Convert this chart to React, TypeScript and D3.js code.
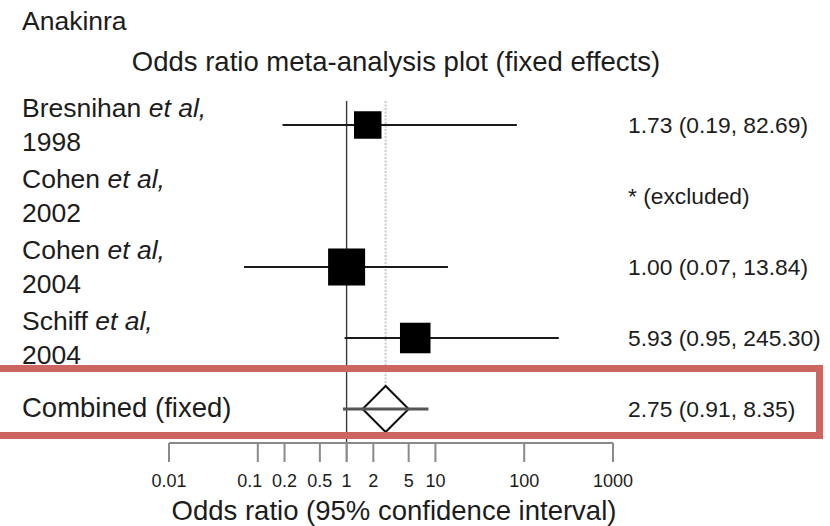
import React from "react";
import * as d3 from "d3";

const studyNames = ["Bresnihan", "Cohen", "Cohen", "Schiff"];
const studyYears = ["1998", "2002", "2004", "2004"];
const oddsRatio: (number | null)[] = [1.73, null, 1.0, 5.93];
const ciLower: (number | null)[] = [0.19, null, 0.07, 0.95];
const ciUpper: (number | null)[] = [82.69, null, 13.84, 245.3];
const weights: (number | null)[] = [24.7, null, 44.8, 30.5];

const combinedLabel = "Combined (fixed)";
const combinedOR = 2.75;
const combinedLower = 0.91;
const combinedUpper = 8.35;

const tickValues = [0.01, 0.1, 0.2, 0.5, 1, 2, 5, 10, 100, 1000];
const tickLabels = ["0.01", "0.1", "0.2", "0.5", "1", "2", "5", "10", "100", "1000"];

const W = 830;
const H = 526;
const FONT = "'Liberation Sans', Arial, Helvetica, sans-serif";
const TEXT = "#1c1c1c";

export default function App() {
  const x = d3.scaleLog().domain([0.01, 1000]).range([169, 613]);
  const rows = d3.scalePoint<number>().domain([0, 1, 2, 3, 4]).range([125, 409]);
  const size = d3.scaleSqrt().domain([0, 100]).range([0, 55.3]);

  const axisY = 443;
  const tickLen = 19;
  const cy = rows(4)!;
  const dH = 23;
  const dW = 23;
  const cx = x(combinedOR);
  const diamond = d3.line()([
    [cx - dW, cy],
    [cx, cy - dH],
    [cx + dW, cy],
    [cx, cy + dH],
    [cx - dW, cy],
  ]);

  const fmt = (v: number) => v.toFixed(2);
  // nudge crowded tick labels apart (0.1 sits next to 0.2)
  const labelNudge = (t: number) => (t === 0.1 ? -8 : 0);

  return (
    <svg
      width={W}
      height={H}
      style={{ position: "absolute", left: 0, top: 0, background: "#fff" }}
      fontFamily={FONT}
    >
      <rect x={0} y={0} width={W} height={H} fill="#fff" />
      <text x={22} y={30} fontSize={26.5} fill={TEXT}>Anakinra</text>
      <text x={396} y={71} fontSize={27.5} fill={TEXT} textAnchor="middle">
        Odds ratio meta-analysis plot (fixed effects)
      </text>

      {/* reference line at OR = 1 */}
      <line x1={x(1)} x2={x(1)} y1={101} y2={axisY + tickLen} stroke="#3a3a3a" strokeWidth={1.4} />
      {/* dotted line at combined estimate */}
      <line
        x1={cx}
        x2={cx}
        y1={101}
        y2={cy - dH}
        stroke="#cacaca"
        strokeWidth={2}
        strokeDasharray="2,1.5"
      />

      {studyNames.map((name, i) => {
        const y = rows(i)!;
        const or = oddsRatio[i];
        const lo = ciLower[i];
        const hi = ciUpper[i];
        const w = weights[i];
        const s = w != null ? size(w) : 0;
        return (
          <g key={i}>
            <text x={22} y={y - 8} fontSize={26.5} fill={TEXT}>
              {name} <tspan fontStyle="italic">et al,</tspan>
            </text>
            <text x={22} y={y + 26} fontSize={26.5} fill={TEXT}>{studyYears[i]}</text>
            {or != null && lo != null && hi != null ? (
              <>
                <line x1={x(lo)} x2={x(hi)} y1={y} y2={y} stroke="#1a1a1a" strokeWidth={2} />
                <rect x={x(or) - s / 2} y={y - s / 2} width={s} height={s} fill="#000" />
                <text x={628} y={y + 8} fontSize={22.8} fill={TEXT}>
                  {`${fmt(or)} (${fmt(lo)}, ${fmt(hi)})`}
                </text>
              </>
            ) : (
              <text x={628} y={y + 8} fontSize={22.8} fill={TEXT}>* (excluded)</text>
            )}
          </g>
        );
      })}

      {/* combined */}
      <text x={22} y={cy + 8} fontSize={27.5} fill={TEXT}>{combinedLabel}</text>
      <path d={diamond!} fill="#fff" stroke="#111" strokeWidth={2} />
      <line x1={x(combinedLower)} x2={x(combinedUpper)} y1={cy} y2={cy} stroke="#555" strokeWidth={3} />
      <text x={628} y={cy + 8} fontSize={22.8} fill={TEXT}>
        {`${fmt(combinedOR)} (${fmt(combinedLower)}, ${fmt(combinedUpper)})`}
      </text>

      {/* axis */}
      <line x1={x(0.01)} x2={x(1000)} y1={axisY} y2={axisY} stroke="#8a8a8a" strokeWidth={2} />
      {tickValues.map((t, i) => (
        <g key={t}>
          <line x1={x(t)} x2={x(t)} y1={axisY} y2={axisY + tickLen} stroke="#8a8a8a" strokeWidth={2} />
          <text x={x(t) + labelNudge(t)} y={487} fontSize={18} textAnchor="middle" fill={TEXT}>
            {tickLabels[i]}
          </text>
        </g>
      ))}
      <text x={394} y={520} fontSize={27.5} textAnchor="middle" fill={TEXT}>
        Odds ratio (95% confidence interval)
      </text>

      {/* highlight box */}
      <rect x={-10} y={368.5} width={829.5} height={67} fill="none" stroke="#cc6660" strokeWidth={7} />
    </svg>
  );
}
